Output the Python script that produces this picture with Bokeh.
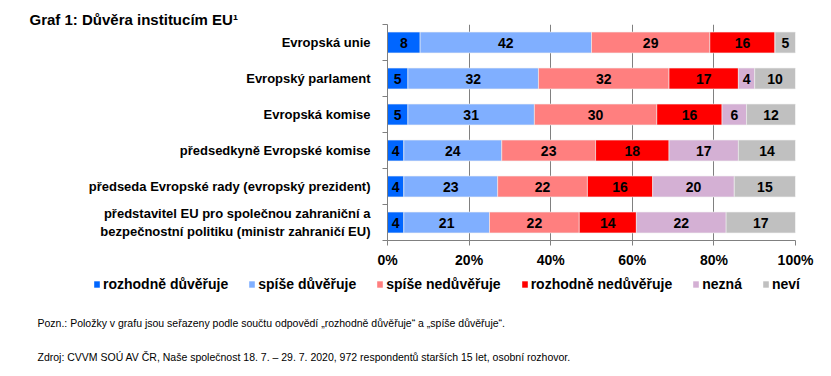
from bokeh.plotting import figure
from bokeh.layouts import column
from bokeh.models import (Range1d, FixedTicker, LinearAxis, Label, Legend, LegendItem,
                          ColumnDataSource, PrintfTickFormatter)
from bokeh.embed import file_html
from bokeh.resources import INLINE

title_text = "Graf 1: Důvěra institucím EU¹"
categories = [
    "Evropská unie",
    "Evropský parlament",
    "Evropská komise",
    "předsedkyně Evropské komise",
    "předseda Evropské rady (evropský prezident)",
    "představitel EU pro společnou zahraniční a\nbezpečnostní politiku (ministr zahraničí EU)",
]
series_names = ["rozhodně důvěřuje", "spíše důvěřuje", "spíše nedůvěřuje",
                "rozhodně nedůvěřuje", "nezná", "neví"]
rozhodne_duveruje = [8, 5, 5, 4, 4, 4]
spise_duveruje = [42, 32, 31, 24, 23, 21]
spise_neduveruje = [29, 32, 30, 23, 22, 22]
rozhodne_neduveruje = [16, 17, 16, 18, 16, 14]
nezna = [0, 4, 6, 17, 20, 22]
nevi = [5, 10, 12, 14, 15, 17]
x_ticks = [0, 20, 40, 60, 80, 100]
note_text = "Pozn.: Položky v grafu jsou seřazeny podle součtu odpovědí „rozhodně důvěřuje“ a „spíše důvěřuje“."
source_text = "Zdroj: CVVM SOÚ AV ČR, Naše společnost 18. 7. – 29. 7. 2020, 972 respondentů starších 15 let, osobní rozhovor."

series = [rozhodne_duveruje, spise_duveruje, spise_neduveruje,
          rozhodne_neduveruje, nezna, nevi]
colors = ["#0066FF", "#80AFFF", "#FF7F7F", "#FF0000", "#D4B0D4", "#C0C0C0"]

FONT = "Liberation Sans"
n = len(categories)
ys = [n - 1 - i + 0.5 for i in range(n)]

W = 831
MAIN_H = 270
BOT_H = 376 - MAIN_H

p = figure(width=W, height=MAIN_H, output_backend="svg", toolbar_location=None,
           x_range=Range1d(0, 100), y_range=Range1d(0, n),
           min_border_left=387, min_border_right=36, min_border_top=24,
           min_border_bottom=29, outline_line_color=None,
           background_fill_color="white", border_fill_color="white")
p.frame_align = False

p.title.text = title_text
p.title.align = "left"
p.title.offset = -358
p.title.standoff = -6
p.title.text_font = FONT
p.title.text_font_style = "bold"
p.title.text_font_size = "15px"
p.title.text_color = "black"

# x axis
p.xaxis.ticker = FixedTicker(ticks=x_ticks)
p.xaxis.formatter = PrintfTickFormatter(format="%d%%")
p.xaxis.major_label_text_font = FONT
p.xaxis.major_label_text_font_style = "bold"
p.xaxis.major_label_text_font_size = "14px"
p.xaxis.major_label_text_color = "black"
p.xaxis.axis_line_color = "#808080"
p.xaxis.major_tick_line_color = "#808080"
p.xaxis.major_tick_out = 5
p.xaxis.major_tick_in = 0
p.xaxis.minor_tick_line_color = None
p.xaxis.major_label_standoff = 6

# vertical grid
p.xgrid.ticker = FixedTicker(ticks=x_ticks[1:])
p.xgrid.grid_line_color = "#808080"
p.ygrid.grid_line_color = None

# primary y axis: boundary ticks, no labels
bounds = list(range(n + 1))
p.yaxis.ticker = FixedTicker(ticks=bounds)
p.yaxis.major_label_overrides = {b: "" for b in bounds}
p.yaxis.major_label_standoff = 0
p.yaxis.axis_line_color = "#808080"
p.yaxis.major_tick_line_color = "#808080"
p.yaxis.major_tick_out = 5
p.yaxis.major_tick_in = 0
p.yaxis.minor_tick_line_color = None

# category label axis
cat_axis = LinearAxis(ticker=FixedTicker(ticks=ys),
                      major_label_overrides={y: c for y, c in zip(ys, categories)},
                      axis_line_color=None, major_tick_line_color=None,
                      minor_tick_line_color=None, major_label_standoff=6,
                      major_label_text_font=FONT, major_label_text_font_style="bold",
                      major_label_text_font_size="13px", major_label_text_color="black")
p.add_layout(cat_axis, "left")

# stacked bars
lefts = [0] * n
for name, vals, col in zip(series_names, series, colors):
    rights = [l + v for l, v in zip(lefts, vals)]
    src = ColumnDataSource(dict(y=ys, left=lefts, right=rights))
    p.hbar(y="y", left="left", right="right", height=0.58, source=src,
           fill_color=col, line_color="#F0F0F0", line_width=0.6)
    lx, ly, lt = [], [], []
    for l, v, y in zip(lefts, vals, ys):
        if v > 0:
            lx.append(l + v / 2)
            ly.append(y)
            lt.append(str(v))
    tsrc = ColumnDataSource(dict(x=lx, y=ly, t=lt))
    p.text(x="x", y="y", text="t", source=tsrc, text_align="center",
           text_baseline="middle", text_font_size="14px", text_font_style="bold",
           text_color="black", text_font={"value": FONT})
    lefts = rights

# bottom panel: legend and notes
pb = figure(width=W, height=BOT_H, output_backend="svg", toolbar_location=None,
            x_range=Range1d(0, W), y_range=Range1d(0, BOT_H),
            min_border=0, outline_line_color=None,
            background_fill_color="white", border_fill_color="white")
pb.frame_align = False
pb.axis.visible = False
pb.grid.visible = False

leg_items = []
for name, col in zip(series_names, colors):
    # legend swatch renderer, kept outside the visible range
    r = pb.hbar(y=[-1000], left=[0], right=[1], height=1, fill_color=col, line_color=None)
    leg_items.append(LegendItem(label=name, renderers=[r]))

legend = Legend(items=leg_items, orientation="horizontal", location=(93, 84),
                border_line_color=None, background_fill_alpha=0,
                label_text_font=FONT, label_text_font_style="bold",
                label_text_font_size="14px", label_text_color="black",
                glyph_width=7, glyph_height=8, label_standoff=3, spacing=20,
                padding=0, margin=0, label_height=14)
pb.add_layout(legend, "center")

pb.add_layout(Label(x=37, y=48, text=note_text, text_font=FONT,
                    text_font_size="10.5px", text_color="black"))
pb.add_layout(Label(x=37, y=14, text=source_text, text_font=FONT,
                    text_font_size="10.5px", text_color="black"))

layout = column(p, pb, spacing=0)
open("out.html", "w").write(file_html(layout, INLINE))
